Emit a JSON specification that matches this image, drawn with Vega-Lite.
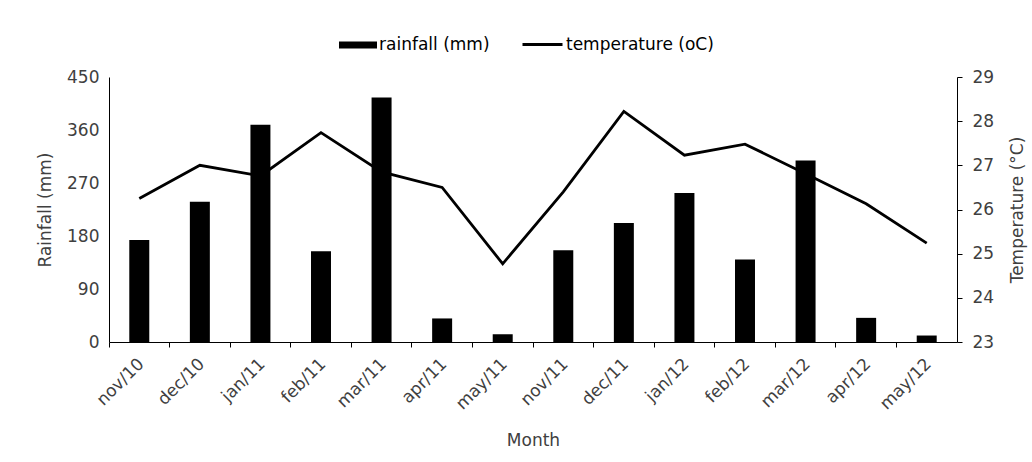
{
  "$schema": "https://vega.github.io/schema/vega-lite/v6.json",
  "width": 848,
  "height": 265,
  "autosize": {"type": "none"},
  "padding": {"left": 109, "top": 77, "right": 75, "bottom": 120},
  "background": "white",
  "config": {
    "font": "DejaVu Sans",
    "view": {"stroke": null},
    "axis": {"labelFont": "DejaVu Sans", "titleFont": "DejaVu Sans", "labelFontSize": 17, "titleFontSize": 17, "titleFontWeight": "normal", "labelColor": "#404040", "titleColor": "#404040", "domainColor": "#000000", "tickColor": "#000000", "grid": false},
    "legend": {"labelFont": "DejaVu Sans", "labelFontSize": 17, "labelColor": "#000000"}
  },
  "data": {
    "values": [
      {"month": "nov/10", "rainfall": 173, "temperature": 26.25},
      {"month": "dec/10", "rainfall": 238, "temperature": 27.0},
      {"month": "jan/11", "rainfall": 369, "temperature": 26.76},
      {"month": "feb/11", "rainfall": 154, "temperature": 27.74},
      {"month": "mar/11", "rainfall": 415, "temperature": 26.85},
      {"month": "apr/11", "rainfall": 40, "temperature": 26.5},
      {"month": "may/11", "rainfall": 13, "temperature": 24.77},
      {"month": "nov/11", "rainfall": 156, "temperature": 26.4},
      {"month": "dec/11", "rainfall": 202, "temperature": 28.22},
      {"month": "jan/12", "rainfall": 253, "temperature": 27.23},
      {"month": "feb/12", "rainfall": 140, "temperature": 27.48},
      {"month": "mar/12", "rainfall": 308, "temperature": 26.81},
      {"month": "apr/12", "rainfall": 41, "temperature": 26.13},
      {"month": "may/12", "rainfall": 11, "temperature": 25.24}
    ]
  },
  "encoding": {
    "x": {
      "field": "month",
      "type": "nominal",
      "sort": null,
      "scale": {"paddingInner": 0, "paddingOuter": 0},
      "axis": {"title": "Month", "labelAngle": -45, "labelAlign": "right", "labelBaseline": "middle", "bandPosition": 0, "labelOffset": 2, "tickSize": 5, "labelPadding": 14, "titlePadding": 20}
    }
  },
  "layer": [
    {
      "mark": {"type": "bar", "width": {"band": 0.33}},
      "encoding": {
        "y": {"field": "rainfall", "type": "quantitative", "scale": {"domain": [0, 450]}, "axis": {"title": "Rainfall (mm)", "values": [0, 90, 180, 270, 360, 450], "ticks": false, "labelPadding": 10, "titlePadding": 12}},
        "fill": {"datum": "rainfall (mm)", "type": "nominal", "scale": {"range": ["#000000"]}, "legend": {"title": null, "orient": "none", "legendX": 230, "legendY": -51, "symbolType": "M-1,-0.18H1V0.18H-1Z", "symbolSize": 1444, "symbolStrokeWidth": 0, "symbolOpacity": 1, "labelOffset": 2}}
      }
    },
    {
      "mark": {"type": "line", "color": "#000000", "strokeWidth": 2.8},
      "encoding": {
        "y": {"field": "temperature", "type": "quantitative", "scale": {"domain": [23, 29]}, "axis": {"title": "Temperature (°C)", "orient": "right", "titleAngle": 270, "titleBaseline": "top", "values": [23, 24, 25, 26, 27, 28, 29], "tickSize": 5, "labelPadding": 10, "titlePadding": 16}},
        "stroke": {"datum": "temperature (oC)", "type": "nominal", "scale": {"range": ["#000000"]}, "legend": {"title": null, "orient": "none", "legendX": 412, "legendY": -54, "symbolType": "stroke", "symbolSize": 1600, "symbolStrokeWidth": 2.8, "labelOffset": 2}}
      }
    }
  ],
  "resolve": {"scale": {"y": "independent", "fill": "independent", "stroke": "independent"}}
}
